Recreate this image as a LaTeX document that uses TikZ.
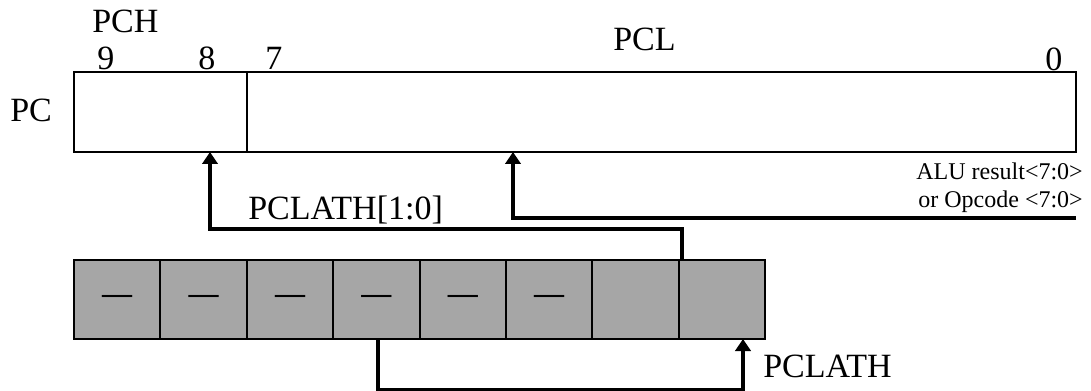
\documentclass[tikz,border=0pt]{standalone}
\usepackage{fontspec}
\setmainfont{Liberation Serif}
\usetikzlibrary{arrows.meta}
\definecolor{regfill}{RGB}{166,166,166}
\begin{document}
\begin{tikzpicture}[x=0.75pt,y=-0.75pt,
  lbl/.style={inner sep=0,anchor=base west,font=\fontsize{25.5pt}{30pt}\selectfont},
  small/.style={inner sep=0,anchor=base east,font=\fontsize{18pt}{21pt}\selectfont},
  box/.style={draw,line width=1.5pt,minimum height=60pt,inner sep=0,outer sep=0,anchor=north west},
  cell/.style={draw,fill=regfill,line width=1.5pt,minimum width=64.8pt,minimum height=59.25pt,
    inner sep=0,outer sep=0,anchor=north west,font=\bfseries\fontsize{22.5pt}{27pt}\selectfont},
  conn/.style={line width=2.6pt},
  arr/.style={conn,-{Triangle[length=9pt,width=11.5pt]}}]
\useasboundingbox (0,0) rectangle (1091,391);

% PC register
\node[box,minimum width=129.75pt] (pch) at (74,72) {};
\node[box,minimum width=621.75pt] (pcl) at (247,72) {};

% labels
\node[lbl] (tpc) at (10,122) {PC};
\node[lbl] (tpch) at (92,33) {PCH};
\node[lbl] (tpcl) at (613,51) {PCL};
\node[lbl] (t9) at (97,70) {9};
\node[lbl] (t8) at (198,70) {8};
\node[lbl] (t7) at (265,70) {7};
\node[lbl] (t0) at (1045,71) {0};
\node[lbl] (tpl10) at (248,220) {PCLATH[1:0]};
\node[lbl] (tpl) at (763,377) {PCLATH};
\node[small] (alu1) at (1083,180) {ALU result<7:0>};
\node[small] (alu2) at (1083,208) {or Opcode <7:0>};

% PCLATH register
\node[cell] (c0) at (74,260) {—};
\node[cell] (c1) at (160.4,260) {—};
\node[cell] (c2) at (246.8,260) {—};
\node[cell] (c3) at (333.2,260) {—};
\node[cell] (c4) at (419.6,260) {—};
\node[cell] (c5) at (506,260) {—};
\node[cell] (c6) at (592.4,260) {};
\node[cell] (c7) at (678.8,260) {};

% connectors
\coordinate (j1) at (210,229);
\draw[arr] ([xshift=2.4pt]c7.north west) |- (j1) -- (j1 |- pch.south);

\coordinate (alu) at (1076,218);
\coordinate (j2) at (513,218);
\draw[arr] (alu) -- (j2) -- (j2 |- pcl.south);

\coordinate (b1) at (378,390);
\coordinate (b2) at (743,390);
\draw[arr] (b1 |- c3.south) -- (b1) -- (b2) -- (b2 |- c7.south);
\end{tikzpicture}
\end{document}
